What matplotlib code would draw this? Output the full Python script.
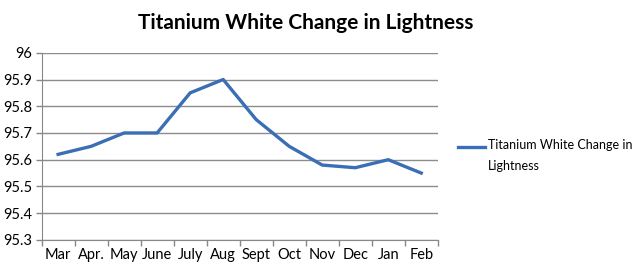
import matplotlib
matplotlib.use('Agg')
import matplotlib.pyplot as plt
from matplotlib.lines import Line2D
import numpy as np

months = ['Mar', 'Apr.', 'May', 'June', 'July', 'Aug', 'Sept', 'Oct', 'Nov', 'Dec', 'Jan', 'Feb']
lightness = [95.62, 95.65, 95.70, 95.70, 95.85, 95.90, 95.75, 95.65, 95.58, 95.57, 95.60, 95.55]
y_ticks = [95.3, 95.4, 95.5, 95.6, 95.7, 95.8, 95.9, 96.0]
y_labels = ['95.3', '95.4', '95.5', '95.6', '95.7', '95.8', '95.9', '96']
series_name = 'Titanium White Change in\nLightness'

plt.rcParams['font.family'] = ['Lato', 'DejaVu Sans']
LINE_COLOR = '#3a6fb5'

fig = plt.figure(figsize=(6.4, 2.72), dpi=100)
ax = fig.add_axes([0.065, 0.118, 0.619, 0.688])

x = np.arange(len(months))
ax.plot(x, lightness, color=LINE_COLOR, lw=2.4)
ax.set_xlim(-0.5, len(months) - 0.5)
ax.set_ylim(95.3, 96.0)
ax.set_yticks(y_ticks, y_labels)
ax.set_xticks(x, months)
ax.set_xticks(np.arange(-0.5, len(months)), minor=True)
ax.tick_params(axis='x', which='major', length=0, pad=6, labelsize=10.5)
ax.tick_params(axis='x', which='minor', length=4, color='#888888', width=1)
ax.tick_params(axis='y', length=4, color='#888888', width=1, labelsize=10.5, pad=3)
ax.grid(axis='y', color='#8c8c8c', lw=1)
ax.set_axisbelow(True)
for s in ['top', 'right']:
    ax.spines[s].set_visible(False)
for s in ['left', 'bottom']:
    ax.spines[s].set_color('#888888')

fig.text(0.478, 0.915, 'Titanium White Change in Lightness', ha='center', va='center',
         fontsize=15, fontweight='bold')

# legend, handle next to the first text line
fig.add_artist(Line2D([0.716, 0.758], [0.46, 0.46], color=LINE_COLOR, lw=2.4,
                      transform=fig.transFigure))
fig.text(0.762, 0.488, series_name, ha='left', va='top', fontsize=9,
         linespacing=1.85)

fig.savefig('out.png', dpi=100)
